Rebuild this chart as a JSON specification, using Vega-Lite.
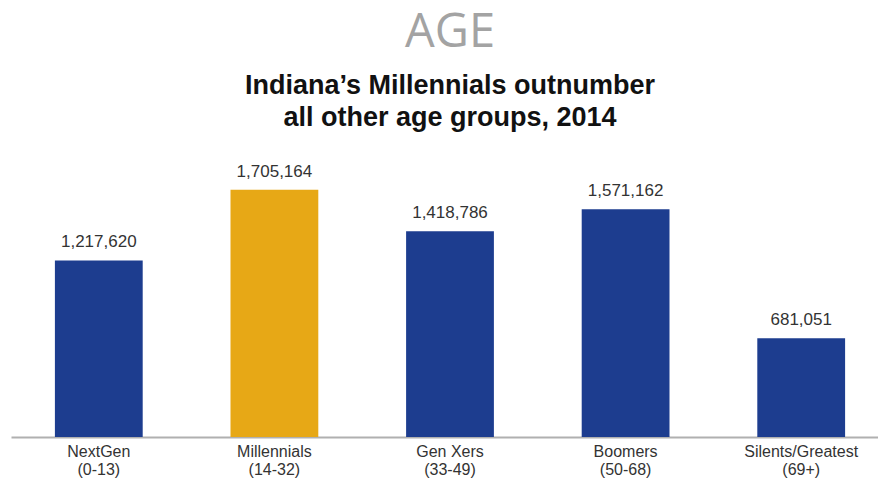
{
  "$schema": "https://vega.github.io/schema/vega-lite/v6.json",
  "width": 878,
  "height": 261,
  "autosize": "none",
  "padding": {"left": 11, "top": 176, "right": 0, "bottom": 43},
  "background": "white",
  "config": {"view": {"stroke": null}},
  "title": {
    "text": "AGE",
    "subtitle": ["Indiana’s Millennials outnumber", "all other age groups, 2014"],
    "anchor": "middle",
    "font": "Open Sans",
    "fontSize": 47,
    "fontWeight": "normal",
    "color": "#a3a3a3",
    "subtitleFont": "Liberation Sans",
    "subtitleFontSize": 27,
    "subtitleFontWeight": "bold",
    "subtitleColor": "#111111",
    "subtitleLineHeight": 32,
    "subtitlePadding": 16,
    "offset": 31
  },
  "data": {
    "values": [
      {"label": "NextGen (0-13)", "population": 1217620, "highlight": "no"},
      {"label": "Millennials (14-32)", "population": 1705164, "highlight": "yes"},
      {"label": "Gen Xers (33-49)", "population": 1418786, "highlight": "no"},
      {"label": "Boomers (50-68)", "population": 1571162, "highlight": "no"},
      {"label": "Silents/Greatest (69+)", "population": 681051, "highlight": "no"}
    ]
  },
  "encoding": {
    "x": {
      "field": "label",
      "type": "nominal",
      "sort": null,
      "scale": {"paddingInner": 0.5, "paddingOuter": 0.25},
      "axis": {
        "title": null,
        "labelAngle": 0,
        "ticks": false,
        "domainColor": "#b0b0b0",
        "domainWidth": 2,
        "labelFont": "Liberation Sans",
        "labelFontSize": 16,
        "labelColor": "#333333",
        "labelLineHeight": 18,
        "labelPadding": 6,
        "labelExpr": "[substring(datum.label, 0, indexof(datum.label, ' (')), substring(datum.label, indexof(datum.label, ' (') + 1)]"
      }
    },
    "y": {
      "field": "population",
      "type": "quantitative",
      "scale": {"domain": [0, 1800000]},
      "axis": null
    }
  },
  "layer": [
    {
      "mark": {"type": "bar"},
      "encoding": {
        "color": {
          "field": "highlight",
          "type": "nominal",
          "scale": {"domain": ["no", "yes"], "range": ["#1d3d8f", "#e7a816"]},
          "legend": null
        }
      }
    },
    {
      "mark": {"type": "text", "baseline": "bottom", "dy": -9, "font": "Liberation Sans", "fontSize": 17, "color": "#333333"},
      "encoding": {
        "text": {"field": "population", "type": "quantitative", "format": ","}
      }
    }
  ]
}
